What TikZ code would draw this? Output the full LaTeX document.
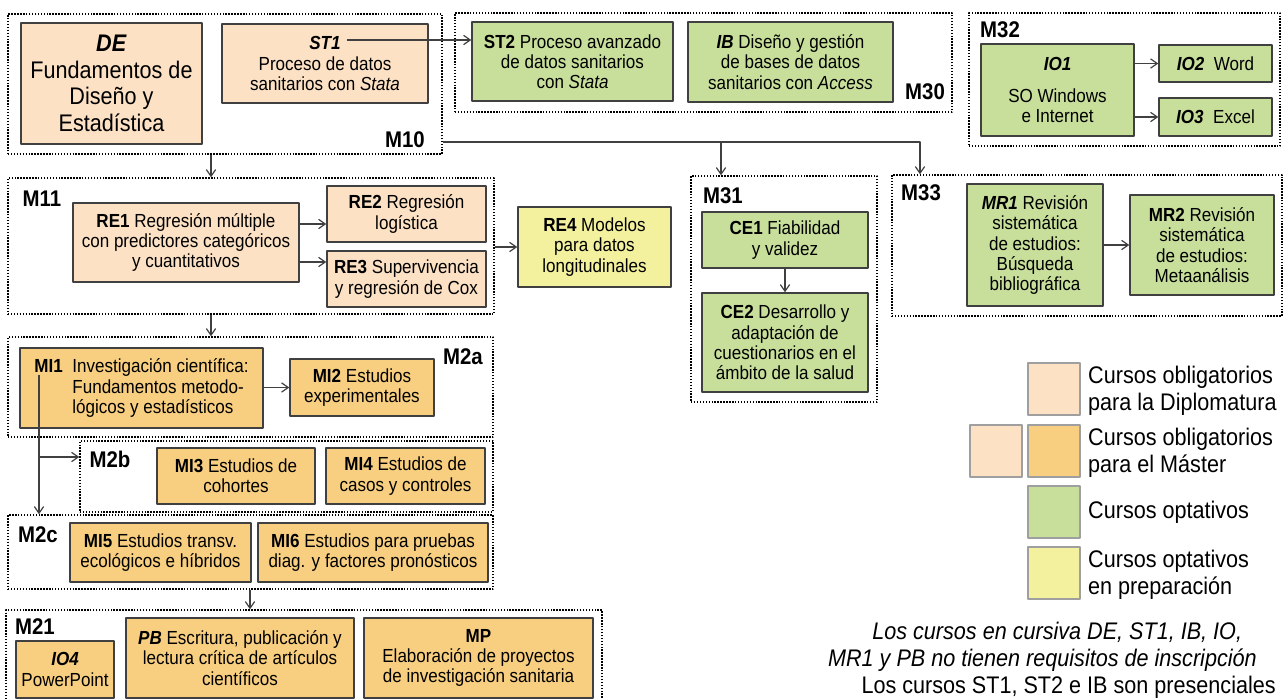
\documentclass[tikz,border=0pt]{standalone}
\usepackage{fontspec}
\setmainfont{Liberation Sans}[FakeStretch=0.9]
\usetikzlibrary{arrows.meta,fit,calc}

\newcommand{\coursefont}{\fontsize{14.2}{15.2}\selectfont}
\newcommand{\bigcoursefont}{\fontsize{18}{20}\selectfont}
\newcommand{\tagfont}{\fontsize{17}{19}\selectfont\bfseries}
\newcommand{\keyfont}{\fontsize{18}{20}\selectfont}

\begin{document}
\begin{tikzpicture}[x=0.75pt,y=-0.75pt,line join=round,
  course/.style={draw=edgegray,line width=1.1pt,inner sep=0pt,align=center,font=\coursefont},
  boxsize/.style 2 args={minimum width=#1*0.75pt,minimum height=#2*0.75pt},
  module/.style={draw=black,line width=1.1pt,dash pattern=on 1.1pt off 1.1pt,inner sep=0pt},
  tag/.style={font=\tagfont,inner sep=0pt},
  link/.style={draw=edgegray,line width=0.9pt,-{Straight Barb[length=5pt,width=7pt]}},
  swatch/.style={draw=gray!75,line width=1.4pt,inner sep=0pt}]

  \definecolor{edgegray}{RGB}{64,64,64}
  \definecolor{diplocol}{RGB}{252,225,197}
  \definecolor{mastercol}{RGB}{248,207,128}
  \definecolor{optcol}{RGB}{200,223,155}
  \definecolor{prepcol}{RGB}{243,241,158}

  \useasboundingbox (0,0) rectangle (1286,699);

  % ---- module frames ----
  \node[module,fit={(8,14)(442,154)}] (M10) {};
  \node[module,fit={(455,13)(952,112)}] (M30) {};
  \node[module,fit={(969,13)(1280,146)}] (M32) {};
  \node[module,fit={(8,178)(494,314)}] (M11) {};
  \node[module,fit={(691,176)(877,402)}] (M31) {};
  \node[module,fit={(892,175)(1282,316)}] (M33) {};
  \node[module,fit={(8,337)(493,437)}] (M2a) {};
  \node[module,fit={(80,441)(493,512)}] (M2b) {};
  \node[module,fit={(8,515)(493,589)}] (M2c) {};
  \node[module,fit={(6,610)(602,712)}] (M21) {};

  \node[tag] (tagM10) at (405,140) {M10};
  \node[tag] (tagM30) at (925,92) {M30};
  \node[tag] (tagM32) at (1000,30) {M32};
  \node[tag] (tagM11) at (42,199) {M11};
  \node[tag] (tagM31) at (723,196) {M31};
  \node[tag] (tagM33) at (921,193) {M33};
  \node[tag] (tagM2a) at (463,357) {M2a};
  \node[tag] (tagM2b) at (110,459) {M2b};
  \node[tag] (tagM2c) at (38,535) {M2c};
  \node[tag] (tagM21) at (35,627) {M21};

  % ---- M10 / M30 / M32 ----
  \node[course,fill=diplocol,font=\bigcoursefont,boxsize={181}{121}] (DE) at (111.5,83.5)
    {\textbf{\textit{DE}}\\Fundamentos de\\Diseño y\\Estadística};
  \node[course,fill=diplocol,boxsize={206}{79}] (ST1) at (325,63.5)
    {\textbf{\textit{ST1}}\\Proceso de datos\\sanitarios con \textit{Stata}};
  \node[course,fill=optcol,boxsize={201}{79}] (ST2) at (572.5,61.5)
    {\textbf{ST2} Proceso avanzado\\de datos sanitarios\\con \textit{Stata}};
  \node[course,fill=optcol,boxsize={205}{80}] (IB) at (790.5,62)
    {\textbf{\textit{IB}} Diseño y gestión\\de bases de datos\\sanitarios con \textit{Access}};
  \node[course,fill=optcol,boxsize={153}{92}] (IO1) at (1057.5,90)
    {\textbf{\textit{IO1}}\\[9pt]SO Windows\\e Internet};
  \node[course,fill=optcol,boxsize={113}{37}] (IO2) at (1215.5,63.5)
    {\textbf{\textit{IO2}}\enspace Word};
  \node[course,fill=optcol,boxsize={113}{38}] (IO3) at (1215.5,117)
    {\textbf{\textit{IO3}}\enspace Excel};

  % ---- M11 ----
  \node[course,fill=diplocol,boxsize={226}{79}] (RE1) at (186,242.5)
    {\textbf{RE1} Regresión múltiple\\con predictores categóricos\\y cuantitativos};
  \node[course,fill=diplocol,boxsize={159}{56}] (RE2) at (406.5,214)
    {\textbf{RE2} Regresión\\logística};
  \node[course,fill=diplocol,boxsize={159}{56}] (RE3) at (406.5,279)
    {\textbf{RE3} Supervivencia\\y regresión de Cox};
  \node[course,fill=prepcol,boxsize={153}{80}] (RE4) at (594.5,247)
    {\textbf{RE4} Modelos\\para datos\\longitudinales};

  % ---- M31 / M33 ----
  \node[course,fill=optcol,boxsize={166}{56}] (CE1) at (785,240)
    {\textbf{CE1} Fiabilidad\\y validez};
  \node[course,fill=optcol,boxsize={166}{99}] (CE2) at (785,342.5)
    {\textbf{CE2} Desarrollo y\\adaptación de\\cuestionarios en el\\ámbito de la salud};
  \node[course,fill=optcol,boxsize={136}{122}] (MR1) at (1035,245)
    {\textbf{\textit{MR1}} Revisión\\sistemática\\de estudios:\\Búsqueda\\bibliográfica};
  \node[course,fill=optcol,boxsize={144}{100}] (MR2) at (1202,245)
    {\textbf{MR2} Revisión\\sistemática\\de estudios:\\Metaanálisis};

  % ---- M2a / M2b / M2c ----
  \node[course,fill=mastercol,align=left,boxsize={243}{80}] (MI1) at (141.5,388)
    {\makebox[28.5pt][l]{\textbf{MI1}}Investigación científica:\\
     \hspace*{28.5pt}Fundamentos metodo-\\\hspace*{28.5pt}lógicos y estadísticos};
  \node[course,fill=mastercol,boxsize={144}{57}] (MI2) at (362,387.5)
    {\textbf{MI2} Estudios\\experimentales};
  \node[course,fill=mastercol,boxsize={158}{56}] (MI3) at (236,476)
    {\textbf{MI3} Estudios de\\cohortes};
  \node[course,fill=mastercol,boxsize={159}{56}] (MI4) at (405.5,476)
    {\textbf{MI4} Estudios de\\casos y controles};
  \node[course,fill=mastercol,boxsize={181}{59}] (MI5) at (160.5,552.5)
    {\textbf{MI5} Estudios transv.\\ecológicos e híbridos};
  \node[course,fill=mastercol,boxsize={230}{59}] (MI6) at (373,552.5)
    {\textbf{MI6} Estudios para pruebas\\diag. y factores pronósticos};

  % ---- M21 ----
  \node[course,fill=mastercol,boxsize={98}{57}] (IO4) at (65,669.5)
    {\textbf{\textit{IO4}}\\PowerPoint};
  \node[course,fill=mastercol,boxsize={228}{80}] (PB) at (240,658)
    {\textbf{\textit{PB}} Escritura, publicación y\\lectura crítica de artículos\\científicos};
  \node[course,fill=mastercol,boxsize={229}{80}] (MP) at (478.5,658)
    {\textbf{MP}\\Elaboración de proyectos\\de investigación sanitaria};

  % ---- connectors ----
  \coordinate (spine) at (211,0);
  \coordinate (spinelow) at (250,0);
  \coordinate (st1tag) at (347,40);
  \coordinate (j31) at (721,142);
  \coordinate (j33) at (920,142);
  \coordinate (re1up) at (299,224);
  \coordinate (re1down) at (299,262);
  \coordinate (mi1tag) at (39,375);
  \coordinate (j2b) at (39,457);

  \draw[link] (st1tag) -- (st1tag -| ST2.west);
  \draw[link] (IO1.east |- IO2) -- (IO2.west);
  \draw[link] (IO1.east |- IO3) -- (IO3.west);
  \draw[link] (M10.east |- j33) -| (M33.north -| j33);
  \draw[link] (j31) -- (j31 |- M31.north);
  \draw[link] (M10.south -| spine) -- (M11.north -| spine);
  \draw[link] (re1up) -- (re1up -| RE2.west);
  \draw[link] (re1down) -- (re1down -| RE3.west);
  \draw[link] (M11.east |- RE4) -- (RE4.west);
  \draw[link] (CE1) -- (CE2);
  \draw[link] (MR1.east |- MR2) -- (MR2.west);
  \draw[link] (M11.south -| spine) -- (M2a.north -| spine);
  \draw[link] (MI1.east |- MI2) -- (MI2.west);
  \draw[edgegray,line width=0.9pt] (mi1tag) -- (j2b);
  \draw[link] (j2b) -- (mi1tag |- M2c.north);
  \draw[link] (j2b) -- (j2b -| M2b.west);
  \draw[link] (M2c.south -| spinelow) -- (M21.north -| spinelow);

  % ---- legend ----
  \node[swatch,fill=diplocol,fit={(1028,363)(1080,415)}] (keyDip) {};
  \node[swatch,fill=diplocol,fit={(970,425)(1022,477)}] (keyMasA) {};
  \node[swatch,fill=mastercol,fit={(1028,425)(1080,477)}] (keyMasB) {};
  \node[swatch,fill=optcol,fit={(1028,486)(1080,538)}] (keyOpt) {};
  \node[swatch,fill=prepcol,fit={(1028,547)(1080,599)}] (keyPrep) {};

  \node[anchor=west,align=left,font=\keyfont,inner sep=0pt] (txtDip) at ($(keyDip.east)+(7,2)$)
    {Cursos obligatorios\\para la Diplomatura};
  \node[anchor=west,align=left,font=\keyfont,inner sep=0pt] (txtMas) at ($(keyMasB.east)+(7,2)$)
    {Cursos obligatorios\\para el Máster};
  \node[anchor=west,align=left,font=\keyfont,inner sep=0pt] (txtOpt) at ($(keyOpt.east)+(7,0)$)
    {Cursos optativos};
  \node[anchor=west,align=left,font=\keyfont,inner sep=0pt] (txtPrep) at ($(keyPrep.east)+(7,2)$)
    {Cursos optativos\\en preparación};

  % ---- notes ----
  \node[anchor=east,align=right,font=\keyfont\itshape,inner sep=0pt] (noteFree) at (1257,647)
    {Los cursos en cursiva DE, ST1, IB, IO,\hspace*{11pt}\\MR1 y PB no tienen requisitos de inscripción};
  \node[anchor=east,font=\keyfont,inner sep=0pt] (noteLive) at (1276,687)
    {Los cursos ST1, ST2 e IB son presenciales};

\end{tikzpicture}
\end{document}
